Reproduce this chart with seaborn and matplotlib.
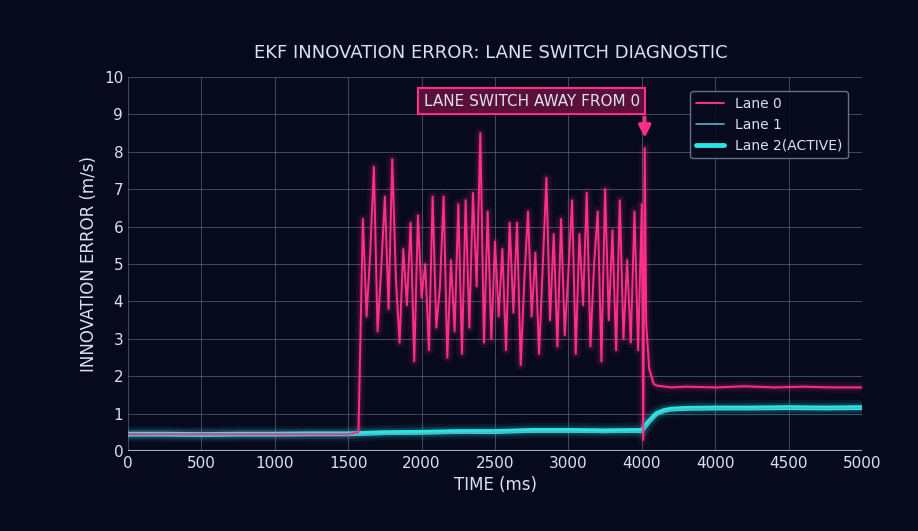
import numpy as np
import pandas as pd
import matplotlib.pyplot as plt
import seaborn as sns

# --- data ---
x_ticks = [0, 500, 1000, 1500, 2000, 2500, 3000, 3500, 4000, 4500, 5000]
x_tick_labels = ['0', '500', '1000', '1500', '2000', '2500', '3000', '4000', '4000', '4500', '5000']

lane0_t = [0, 500, 1000, 1500, 1570, 1600,
           1625, 1650, 1675, 1700, 1725, 1750, 1775, 1800, 1825, 1850,
           1875, 1900, 1925, 1950, 1975, 2000, 2025, 2050, 2075, 2100,
           2125, 2150, 2175, 2200, 2225, 2250, 2275, 2300, 2325, 2350,
           2375, 2400, 2425, 2450, 2475, 2500, 2525, 2550, 2575, 2600,
           2625, 2650, 2675, 2700, 2725, 2750, 2775, 2800, 2825, 2850,
           2875, 2900, 2925, 2950, 2975, 3000, 3025, 3050, 3075, 3100,
           3125, 3150, 3175, 3200, 3225, 3250, 3275, 3300, 3325, 3350,
           3375, 3400, 3425, 3450, 3475, 3500, 3510, 3520, 3530, 3550, 3580,
           3600, 3700, 3800, 4000, 4200, 4400, 4600, 4800, 5000]
lane0_v = [0.45, 0.45, 0.45, 0.45, 0.5, 6.2,
           3.6, 5.3, 7.6, 3.2, 4.9, 6.8, 3.8, 7.8, 4.6, 2.9,
           5.4, 3.9, 6.1, 2.4, 6.3, 4.1, 5.0, 2.7, 6.8, 3.3,
           4.4, 6.8, 2.5, 5.1, 3.2, 6.6, 2.6, 6.7, 3.3, 6.9,
           4.4, 8.5, 2.9, 6.4, 3.0, 5.6, 3.6, 5.4, 2.7, 6.1,
           3.7, 6.1, 2.3, 4.6, 6.4, 3.6, 5.3, 2.6, 4.9, 7.3,
           3.5, 5.8, 2.8, 6.2, 3.1, 4.8, 6.7, 2.6, 5.8, 3.9,
           6.9, 2.8, 5.0, 6.4, 2.4, 7.0, 3.5, 5.9, 2.7, 6.7,
           3.0, 5.1, 2.9, 6.4, 2.7, 6.6, 0.3, 8.1, 3.4, 2.2, 1.8,
           1.75, 1.7, 1.72, 1.7, 1.73, 1.7, 1.72, 1.7, 1.7]

lane_t = [0, 250, 500, 750, 1000, 1250, 1500, 1750, 2000, 2250, 2500, 2750,
          3000, 3250, 3500, 3550, 3600, 3650, 3700, 3800, 4000, 4250, 4500, 4750, 5000]
lane1_v = [0.42, 0.44, 0.41, 0.43, 0.42, 0.44, 0.43, 0.45, 0.47, 0.48, 0.50, 0.52,
           0.52, 0.50, 0.52, 0.75, 0.95, 1.05, 1.10, 1.12, 1.14, 1.13, 1.15, 1.14, 1.15]
lane2_v = [0.45, 0.45, 0.44, 0.45, 0.45, 0.46, 0.46, 0.49, 0.50, 0.52, 0.52, 0.55,
           0.55, 0.54, 0.55, 0.80, 1.00, 1.08, 1.12, 1.14, 1.15, 1.15, 1.16, 1.15, 1.16]

switch_t = 3520

sns.set_theme(style='dark')
plt.rcParams['font.family'] = ['DejaVu Sans']
bg = '#060a1c'
grid_c = '#6f7f95'
txt_c = '#d8e2ee'
pink = '#ff2f86'
cyan = '#27e6ea'

fig = plt.figure(figsize=(9.18, 5.31), dpi=100, facecolor=bg)
ax = fig.add_axes([128 / 918, 80 / 531, 734 / 918, 374 / 531], facecolor=bg)

df0 = pd.DataFrame({'t': lane0_t, 'v': lane0_v})
df1 = pd.DataFrame({'t': lane_t, 'v': lane1_v})
df2 = pd.DataFrame({'t': lane_t, 'v': lane2_v})

# glow layers
for lw, a in [(8, 0.08), (4, 0.15)]:
    sns.lineplot(data=df0, x='t', y='v', ax=ax, color=pink, lw=lw, alpha=a, legend=False)
    sns.lineplot(data=df2, x='t', y='v', ax=ax, color=cyan, lw=lw + 3, alpha=a, legend=False)
sns.lineplot(data=df2, x='t', y='v', ax=ax, color=cyan, lw=3.5, label='Lane 2(ACTIVE)')
sns.lineplot(data=df1, x='t', y='v', ax=ax, color='#4fb8c8', lw=1.2, label='Lane 1')
sns.lineplot(data=df0, x='t', y='v', ax=ax, color=pink, lw=1.4, label='Lane 0')

ax.set_xlim(0, 5000)
ax.set_ylim(0, 10)
ax.set_xticks(x_ticks)
ax.set_xticklabels(x_tick_labels)
ax.set_yticks(range(0, 11))
ax.grid(True, color=grid_c, lw=0.7, alpha=0.55)
for s in ax.spines.values():
    s.set_visible(False)
ax.axhline(0, color='#9fb3c8', lw=1.5)
ax.tick_params(colors=txt_c, labelsize=11, length=0)
ax.set_xlabel('TIME (ms)', color=txt_c, fontsize=12)
ax.set_ylabel('INNOVATION ERROR (m/s)', color=txt_c, fontsize=12)
fig.text(0.535, 0.89, 'EKF INNOVATION ERROR: LANE SWITCH DIAGNOSTIC', color=txt_c,
         fontsize=13, ha='center')

ax.text(2750, 9.35, 'LANE SWITCH AWAY FROM 0', color=txt_c, fontsize=11,
        ha='center', va='center',
        bbox=dict(boxstyle='square,pad=0.35', fc='#5a1038', ec=pink, lw=1.5))
ax.annotate('', xy=(switch_t, 8.3), xytext=(switch_t, 9.0),
            arrowprops=dict(arrowstyle='-|>', color=pink, lw=2.5, mutation_scale=18))

h, l = ax.get_legend_handles_labels()
order = [l.index('Lane 0'), l.index('Lane 1'), l.index('Lane 2(ACTIVE)')]
leg = ax.legend([h[i] for i in order], [l[i] for i in order], loc='upper right',
                bbox_to_anchor=(0.99, 0.98), facecolor=bg, edgecolor=grid_c,
                fontsize=10, labelcolor=txt_c)
leg.get_frame().set_alpha(0.9)

fig.savefig('out.png', dpi=100, facecolor=bg)
